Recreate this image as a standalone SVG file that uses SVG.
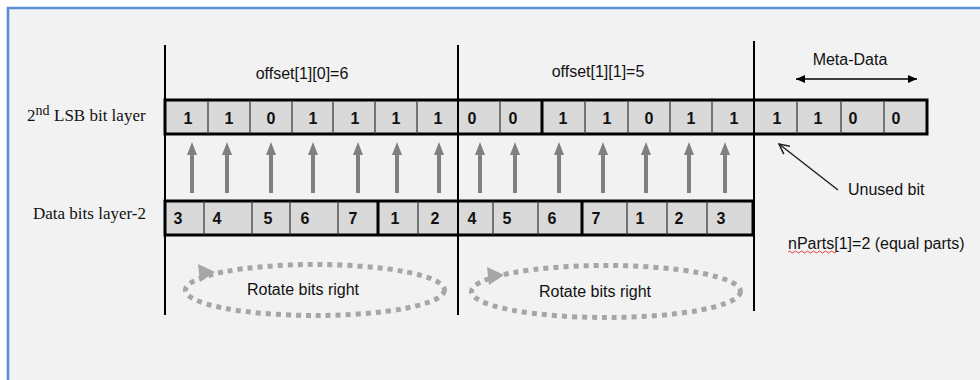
<svg xmlns="http://www.w3.org/2000/svg" width="980" height="380" viewBox="0 0 980 380">
  <style>
    .lbl { font-family: "Liberation Sans", Arial, sans-serif; font-size: 16px; fill: #111; }
    .serif { font-family: "Liberation Serif", "Times New Roman", serif; font-size: 17px; fill: #111; }
    .bit { font-family: "Liberation Sans", Arial, sans-serif; font-size: 16px; font-weight: bold; fill: #111; text-anchor: middle; }
    .row { fill: #d9d9d9; stroke: #000; stroke-width: 3; }
    .thin { stroke: #333; stroke-width: 1.2; fill: none; }
    .thick { stroke: #000; stroke-width: 3; fill: none; }
    .sect { stroke: #000; stroke-width: 2; fill: none; }
    .up { stroke: #808080; stroke-width: 4; marker-end: url(#grayHead); }
    .rot { fill: none; stroke: #a6a6a6; stroke-width: 5; stroke-dasharray: 5 5; }
  </style>
  <defs>
    <marker id="grayHead" viewBox="0 0 13 10" refX="5" refY="5" markerWidth="13" markerHeight="10" markerUnits="userSpaceOnUse" orient="auto">
      <path d="M0,0 L13,5 L0,10 Z" fill="#808080"/>
    </marker>
    <marker id="blackHead" viewBox="0 0 9 8" refX="9" refY="4" markerWidth="9" markerHeight="8" markerUnits="userSpaceOnUse" orient="auto-start-reverse">
      <path d="M0,0 L9,4 L0,8 Z" fill="#000"/>
    </marker>
    <marker id="openHead" viewBox="0 0 12 12" refX="11" refY="6" markerWidth="12" markerHeight="12" markerUnits="userSpaceOnUse" orient="auto">
      <path d="M1,1 L11,6 L1,11" fill="none" stroke="#222" stroke-width="1.5"/>
    </marker>
  </defs>

  <!-- canvas and frame -->
  <rect x="0" y="0" width="980" height="380" fill="#ffffff"/>
  <rect x="7" y="8" width="973" height="372" fill="#f2f2f2"/>
  <path d="M8,380 V8 H980" fill="none" stroke="#5a8ed6" stroke-width="2.6"/>

  <!-- row titles -->
  <g id="label-lsb">
    <text class="serif" x="27" y="121">2<tspan font-size="14" dy="-6">nd</tspan><tspan x="54" dy="6">LSB bit layer</tspan></text>
  </g>
  <g id="label-data">
    <text class="serif" x="33" y="219">Data bits layer-2</text>
  </g>

  <!-- section headings -->
  <g id="offset-0">
    <text class="lbl" x="302" y="79" text-anchor="middle">offset[1][0]=6</text>
  </g>
  <g id="offset-1">
    <text class="lbl" x="598" y="77" text-anchor="middle">offset[1][1]=5</text>
  </g>
  <g id="meta-data">
    <text class="lbl" x="850" y="65" text-anchor="middle">Meta-Data</text>
  </g>

  <!-- 2nd LSB bit layer -->
  <g id="bit-layer">
    <rect class="row" x="165" y="100" width="762" height="34"/>
    <path class="thin" d="M208,100V134 M250,100V134 M292,100V134 M333,100V134 M375,100V134 M417,100V134 M500,100V134 M585,100V134 M628,100V134 M670,100V134 M712,100V134 M797,100V134 M841,100V134 M884,100V134"/>
    <path class="thick" d="M542,100V134"/>
    <text class="bit" x="188" y="124">1</text>
    <text class="bit" x="229" y="124">1</text>
    <text class="bit" x="271" y="124">0</text>
    <text class="bit" x="313" y="124">1</text>
    <text class="bit" x="355" y="124">1</text>
    <text class="bit" x="396" y="124">1</text>
    <text class="bit" x="438" y="124">1</text>
    <text class="bit" x="472" y="124">0</text>
    <text class="bit" x="513" y="124">0</text>
    <text class="bit" x="563" y="124">1</text>
    <text class="bit" x="607" y="124">1</text>
    <text class="bit" x="649" y="124">0</text>
    <text class="bit" x="691" y="124">1</text>
    <text class="bit" x="734" y="124">1</text>
    <text class="bit" x="777" y="124">1</text>
    <text class="bit" x="818" y="124">1</text>
    <text class="bit" x="853" y="124">0</text>
    <text class="bit" x="896" y="124">0</text>
  </g>

  <!-- data bits layer-2 -->
  <g id="data-layer">
    <rect class="row" x="165" y="201" width="588" height="34"/>
    <path class="thin" d="M204,201V235 M252,201V235 M290,201V235 M338,201V235 M418,201V235 M493,201V235 M538,201V235 M627,201V235 M667,201V235 M707,201V235"/>
    <path class="thick" d="M378,201V235 M582,201V235"/>
    <text class="bit" x="178" y="224">3</text>
    <text class="bit" x="217" y="224">4</text>
    <text class="bit" x="268" y="224">5</text>
    <text class="bit" x="305" y="224">6</text>
    <text class="bit" x="353" y="224">7</text>
    <text class="bit" x="395" y="224">1</text>
    <text class="bit" x="435" y="224">2</text>
    <text class="bit" x="472" y="224">4</text>
    <text class="bit" x="507" y="224">5</text>
    <text class="bit" x="552" y="224">6</text>
    <text class="bit" x="596" y="224">7</text>
    <text class="bit" x="640" y="224">1</text>
    <text class="bit" x="679" y="224">2</text>
    <text class="bit" x="721" y="224">3</text>
  </g>

  <!-- section boundaries -->
  <g id="section-lines">
    <path class="sect" d="M165,45V315 M458,45V315 M754,41V311"/>
  </g>

  <!-- side notes -->
  <g id="unused-bit">
    <text class="lbl" x="848" y="195">Unused bit</text>
  </g>
  <g id="nparts">
    <text class="lbl" x="788" y="249">nParts[1]=2 (equal parts)</text>
    <path d="M788,252 q1.5,-2 3,0 t3,0 t3,0 t3,0 t3,0 t3,0 t3,0 t3,0 t3,0 t3,0 t3,0 t3,0 t3,0 t3,0 t3,0 t3,0" fill="none" stroke="#e03030" stroke-width="0.9"/>
  </g>

  <!-- rotation labels -->
  <g id="rotate-0">
    <text class="lbl" x="303" y="295" text-anchor="middle">Rotate bits right</text>
  </g>
  <g id="rotate-1">
    <text class="lbl" x="595" y="297" text-anchor="middle">Rotate bits right</text>
  </g>

  <!-- connectors -->
  <g id="connectors">
    <line class="up" x1="192" y1="193" x2="192" y2="150"/>
    <line class="up" x1="227" y1="193" x2="227" y2="150"/>
    <line class="up" x1="271" y1="193" x2="271" y2="150"/>
    <line class="up" x1="313" y1="193" x2="313" y2="150"/>
    <line class="up" x1="358" y1="193" x2="358" y2="150"/>
    <line class="up" x1="397" y1="193" x2="397" y2="150"/>
    <line class="up" x1="439" y1="193" x2="439" y2="150"/>
    <line class="up" x1="480" y1="193" x2="480" y2="150"/>
    <line class="up" x1="515" y1="193" x2="515" y2="150"/>
    <line class="up" x1="559" y1="193" x2="559" y2="150"/>
    <line class="up" x1="603" y1="193" x2="603" y2="150"/>
    <line class="up" x1="646" y1="193" x2="646" y2="150"/>
    <line class="up" x1="689" y1="193" x2="689" y2="150"/>
    <line class="up" x1="725" y1="193" x2="725" y2="150"/>

    <line x1="796" y1="79" x2="917" y2="79" stroke="#000" stroke-width="1.5" marker-start="url(#blackHead)" marker-end="url(#blackHead)"/>
    <line x1="838" y1="190" x2="779" y2="144" stroke="#222" stroke-width="1.5" marker-end="url(#openHead)"/>

    <ellipse class="rot" cx="315" cy="290" rx="129.5" ry="25.5"/>
    <polygon points="198,264 215,272 200,282" fill="#a6a6a6"/>
    <ellipse class="rot" cx="606" cy="291.5" rx="134.5" ry="26"/>
    <polygon points="487,267 504,275 489,285" fill="#a6a6a6"/>
  </g>
</svg>
